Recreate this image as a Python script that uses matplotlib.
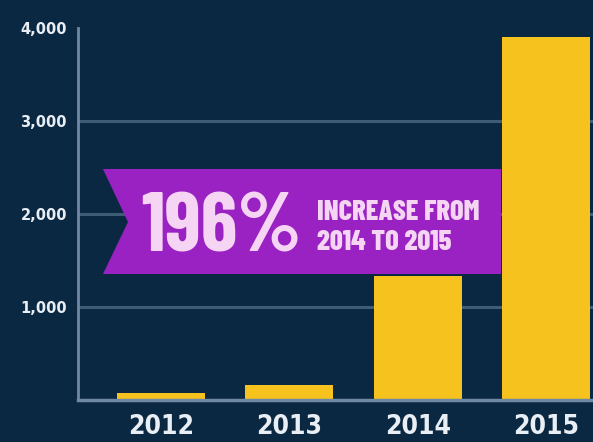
import matplotlib
matplotlib.use("Agg")
import matplotlib.pyplot as plt
from matplotlib.patches import Polygon

years = ["2012", "2013", "2014", "2015"]
values = [70, 160, 1330, 3900]
yticks = [1000, 2000, 3000, 4000]
ytick_labels = ["1,000", "2,000", "3,000", "4,000"]
headline = "196%"
sublines = ["INCREASE FROM", "2014 TO 2015"]

BG = "#0b2843"
BAR = "#f6c21d"
GRID = "#3e5b78"
AXIS = "#7088a3"
PURPLE = "#9a22c2"
TXT = "#e8eef4"
PINK = "#f6d4f4"

W, H = 593, 442
fig = plt.figure(figsize=(W / 100, H / 100), dpi=100, facecolor=BG)
ax = fig.add_axes([78 / W, 1 - 400 / H, (W - 78) / W, (400 - 28) / H])
ax.set_facecolor(BG)

x = list(range(len(years)))
ax.bar(x, values, width=0.685, color=BAR, zorder=3)

ax.set_xlim(-0.646, 3.366)
ax.set_ylim(0, 4000)
ax.set_yticks(yticks)
ax.set_yticklabels(ytick_labels)
ax.set_xticks(x)
ax.set_xticklabels(years)

for v in yticks[:-1]:
    ax.axhline(v, color=GRID, lw=2.2, zorder=1)

for s in ["top", "right"]:
    ax.spines[s].set_visible(False)
ax.spines["left"].set_color(AXIS)
ax.spines["left"].set_linewidth(2)
ax.spines["bottom"].set_color(AXIS)
ax.spines["bottom"].set_linewidth(2.5)
ax.spines["left"].set_zorder(4)
ax.spines["bottom"].set_zorder(4)

ax.tick_params(axis="y", length=0, pad=8, labelcolor=TXT, labelsize=10.5)
ax.tick_params(axis="x", length=0, pad=10, labelcolor=TXT, labelsize=19)
for lab in ax.get_yticklabels():
    lab.set_fontweight("bold")
for lab in ax.get_xticklabels():
    lab.set_family("DejaVu Sans")
    lab.set_fontstretch("condensed")
    lab.set_fontweight("bold")

# ribbon banner (decoration, figure pixel coords)
def fp(px, py):
    return (px / W, 1 - py / H)

pts = [fp(103, 169), fp(501, 169), fp(501, 274), fp(103, 274), fp(128, 222)]
ax.add_patch(Polygon(pts, closed=True, transform=fig.transFigure,
                     facecolor=PURPLE, edgecolor="none", zorder=2, clip_on=False))

ax.text(*fp(141, 252), headline, transform=fig.transFigure, ha="left", va="baseline",
        color=PINK, fontsize=60, family="Barlow Condensed", fontweight="bold", zorder=5)
for line, py in zip(sublines, [220, 250]):
    ax.text(*fp(317, py), line, transform=fig.transFigure, ha="left", va="baseline",
            color=PINK, fontsize=20.5, family="Barlow Condensed", fontweight=800, zorder=5)

fig.savefig("out.png", dpi=100, facecolor=BG)
